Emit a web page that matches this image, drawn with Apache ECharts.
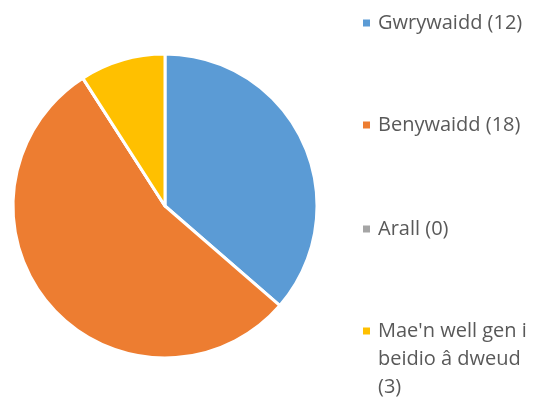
<!DOCTYPE html>
<html>
<head>
<meta charset="utf-8">
<script src="https://cdn.jsdelivr.net/npm/echarts@6/dist/echarts.min.js"></script>
<style>
  html, body { margin: 0; padding: 0; background: #fff; }
  #chart { width: 541px; height: 405px; }
</style>
</head>
<body>
<div id="chart"></div>
<script>
  // data
  const categories = ['Gwrywaidd', 'Benywaidd', 'Arall', "Mae'n well gen i beidio â dweud"]
  const values = [12, 18, 0, 3]
  const colors = ['#5B9BD5', '#ED7D31', '#A5A5A5', '#FFC000']

  const lineH = 28
  // legend marker centres (y)
  const markerY = [23, 125, 229, 331]

  const chart = echarts.init(document.getElementById('chart'))

  const legends = categories.map((name, i) => {
    const multi = i === 3
    return {
      data: [name],
      orient: 'vertical',
      left: 361,
      // the long item is 5 lines tall (2 empty + 3 text lines)
      top: multi ? markerY[i] - lineH * 2.5 : markerY[i] - lineH / 2,
      padding: 0,
      icon: 'rect',
      itemWidth: 9,
      itemHeight: 9,
      itemGap: 0,
      selectedMode: false,
      textStyle: {
        fontFamily: 'Open Sans',
        fontSize: 20,
        color: '#595959',
        lineHeight: lineH,
        width: 160,
        overflow: 'break',
        padding: [0, 0, 0, 2]
      },
      formatter: n => {
        const txt = n + ' (' + values[categories.indexOf(n)] + ')'
        // empty lines on top so the marker stays next to the first text line
        return multi ? '\n\n' + txt : txt
      }
    }
  })

  const option = {
    animation: false,
    color: colors,
    legend: legends,
    series: [{
      type: 'pie',
      center: [165, 206],
      radius: 152,
      startAngle: 90,
      clockwise: true,
      label: { show: false },
      labelLine: { show: false },
      emphasis: { disabled: true },
      itemStyle: {
        borderColor: '#fff',
        borderWidth: 3
      },
      data: categories.map((c, i) => ({ name: c, value: values[i] }))
    }]
  }

  chart.setOption(option)
</script>
</body>
</html>
